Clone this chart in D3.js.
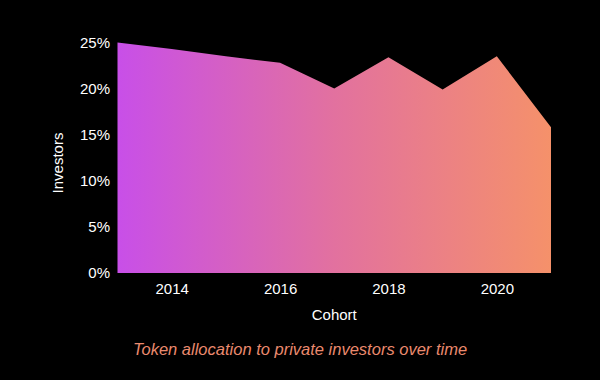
<!DOCTYPE html>
<html><head><meta charset="utf-8">
<script src="https://cdn.jsdelivr.net/npm/d3@7"></script>
<style>
html,body{margin:0;padding:0;background:#000;}
svg{display:block;}
text{font-family:"Liberation Sans",Arial,Helvetica,sans-serif;}
</style></head>
<body>
<svg id="chart" width="600" height="380"></svg>
<script>
const years = [2013, 2014, 2015, 2016, 2017, 2018, 2019, 2020, 2021];
const investors = [25.0, 24.3, 23.5, 22.8, 20.0, 23.4, 19.9, 23.5, 15.8];
const yTicks = [0, 5, 10, 15, 20, 25];
const xTicks = [2014, 2016, 2018, 2020];
const title = "Token allocation to private investors over time";

const svg = d3.select("#chart");
const x = d3.scaleLinear().domain([2013, 2021]).range([117.5, 551]);
const y = d3.scaleLinear().domain([0, 25]).range([273, 42.5]);

const defs = svg.append("defs");
const grad = defs.append("linearGradient").attr("id","g")
  .attr("gradientUnits","userSpaceOnUse")
  .attr("x1", x(2013)).attr("x2", x(2021)).attr("y1",0).attr("y2",0);
grad.append("stop").attr("offset","0%").attr("stop-color","#c84fe8");
grad.append("stop").attr("offset","50%").attr("stop-color","#e2719f");
grad.append("stop").attr("offset","100%").attr("stop-color","#f5916a");

const data = years.map((yr,i)=>({yr, v:investors[i]}));
const area = d3.area().x(d=>x(d.yr)).y0(y(0)).y1(d=>y(d.v)).curve(d3.curveLinear);
svg.append("path").datum(data).attr("d", area).attr("fill","url(#g)");

// y axis
const yAxis = svg.append("g").attr("transform","translate(110,0)")
  .call(d3.axisLeft(y).tickValues(yTicks).tickFormat(d=>d+"%").tickSize(0).tickPadding(0));
yAxis.select(".domain").remove();
yAxis.selectAll("text").attr("fill","#fff").attr("font-size",15);

// x axis
const xAxis = svg.append("g").attr("transform","translate(0,278)")
  .call(d3.axisBottom(x).tickValues(xTicks).tickFormat(d3.format("d")).tickSize(0).tickPadding(5));
xAxis.select(".domain").remove();
xAxis.selectAll("text").attr("fill","#fff").attr("font-size",15);

svg.append("text").attr("x",(x(2013)+x(2021))/2).attr("y",320)
  .attr("text-anchor","middle").attr("fill","#fff").attr("font-size",15).text("Cohort");

svg.append("text").attr("transform","translate(63,163) rotate(-90)")
  .attr("text-anchor","middle").attr("fill","#fff").attr("font-size",15).text("Investors");

svg.append("text").attr("x",300).attr("y",355)
  .attr("text-anchor","middle").attr("fill","#eb8a6e").attr("font-size",16.5)
  .attr("font-style","italic").text(title);
</script>
</body></html>
